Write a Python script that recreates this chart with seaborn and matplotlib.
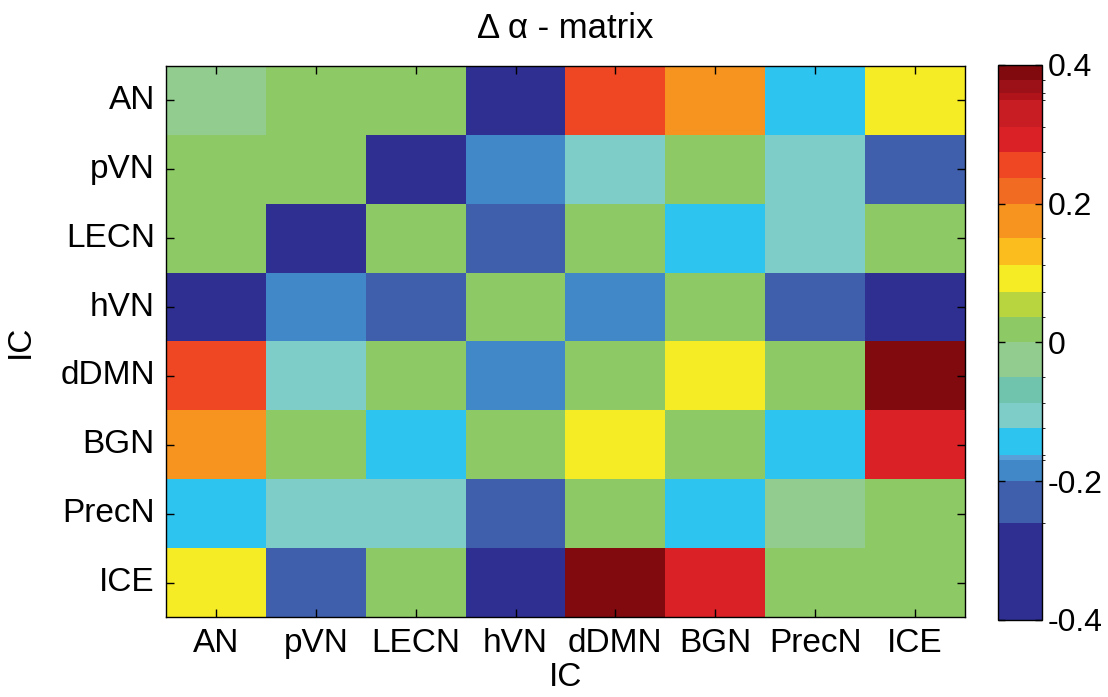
import numpy as np
import pandas as pd
import seaborn as sns
import matplotlib.pyplot as plt
from matplotlib.colors import ListedColormap, BoundaryNorm

# independent components (rows and columns)
ics = ['AN', 'pVN', 'LECN', 'hVN', 'dDMN', 'BGN', 'PrecN', 'ICE']

# delta alpha values, one row per IC
delta_alpha = [
    [-0.02, 0.00, 0.00, -0.33, 0.26, 0.17, -0.14, 0.09],     # AN
    [0.00, 0.00, -0.33, -0.19, -0.10, 0.00, -0.10, -0.23],   # pVN
    [0.00, -0.33, 0.00, -0.23, 0.00, -0.14, -0.10, 0.00],    # LECN
    [-0.33, -0.19, -0.23, 0.00, -0.19, 0.00, -0.23, -0.33],  # hVN
    [0.26, -0.10, 0.00, -0.19, 0.00, 0.09, 0.00, 0.39],      # dDMN
    [0.17, 0.00, -0.14, 0.00, 0.09, 0.00, -0.14, 0.30],      # BGN
    [-0.14, -0.10, -0.10, -0.23, 0.00, -0.14, -0.02, 0.00],  # PrecN
    [0.09, -0.23, 0.00, -0.33, 0.39, 0.30, 0.00, 0.00],      # ICE
]

cbar_ticks = [-0.4, -0.2, 0, 0.2, 0.4]

# stepped jet-like colour scale, as in the original colorbar
band_edges = [-0.4, -0.26, -0.2, -0.17, -0.162, -0.123, -0.087, -0.05, 0.0,
              0.037, 0.073, 0.112, 0.15, 0.2, 0.237, 0.275, 0.31, 0.35,
              0.36, 0.378, 0.4]
band_colors = ['#2e2f91', '#3f5eab', '#4188c8', '#5aa0d8', '#2ec4f0',
               '#7fcdc9', '#70c4ae', '#92cc8e', '#8dc965', '#b8d43e',
               '#f6ec25', '#fbbc1d', '#f7941f', '#f26b23', '#ef4623',
               '#da2126', '#c81d23', '#b0131a', '#9b1117', '#800a0e']

plt.rcParams['font.family'] = ['Liberation Sans', 'DejaVu Sans']

df = pd.DataFrame(delta_alpha, index=ics, columns=ics)
cmap = ListedColormap(band_colors)
norm = BoundaryNorm(band_edges, cmap.N)

fig = plt.figure(figsize=(11.08, 6.97), dpi=100)
ax = fig.add_axes([0.1498, 0.1148, 0.7211, 0.7905])
cax = fig.add_axes([0.9007, 0.1105, 0.0397, 0.7963])

sns.heatmap(df, ax=ax, cbar_ax=cax, cmap=cmap, norm=norm,
            cbar_kws={'spacing': 'proportional', 'ticks': cbar_ticks})

for s in ax.spines.values():
    s.set_visible(True)
    s.set_color('black')
    s.set_linewidth(1)

ax.tick_params(direction='in', top=True, right=True, length=6, width=1,
               labelsize=24, pad=8)
ax.set_yticklabels(ics, rotation=0)
ax.set_xticklabels(ics, rotation=0)

ax.set_xlabel('IC', fontsize=24)
ax.set_ylabel('IC', fontsize=24)
ax.xaxis.set_label_coords(0.5, -0.082)
ax.yaxis.set_label_coords(-0.163, 0.5)
ax.set_title('Δ α - matrix', fontsize=25, pad=20)

cb = ax.collections[0].colorbar
cb.outline.set_edgecolor('black')
cb.outline.set_linewidth(1)
cb.set_ticks(cbar_ticks)
cb.set_ticklabels([f'{t:g}' for t in cbar_ticks])
cax.tick_params(direction='in', left=True, right=True, length=5, width=1,
                labelsize=23, pad=4)

plt.savefig('out.png', dpi=100)
